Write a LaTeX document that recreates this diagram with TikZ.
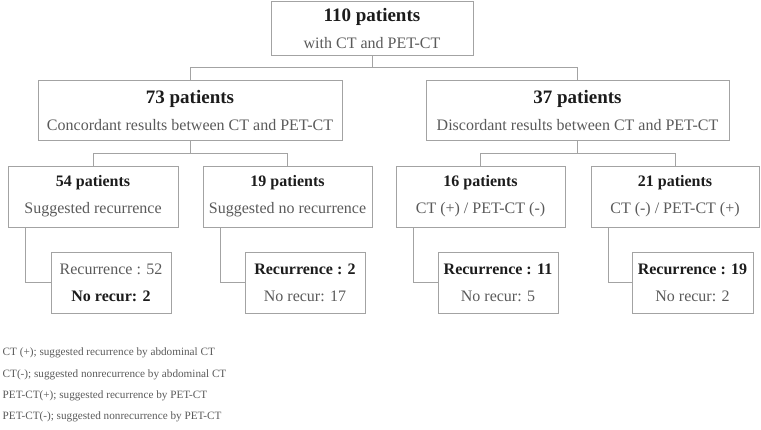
\documentclass[tikz,border=0pt]{standalone}
\usepackage{fontspec}
\setmainfont{Liberation Serif}
\usetikzlibrary{positioning}
\definecolor{boxline}{HTML}{A3A3A3}
\definecolor{txtgray}{HTML}{5A5A5A}
\definecolor{txtdark}{HTML}{1C1C1C}
\newcommand{\bighead}[1]{{\fontsize{19}{27}\selectfont\bfseries\color{txtdark}#1}}
\newcommand{\smhead}[1]{{\bfseries\color{txtdark}#1}}

\begin{document}
\begin{tikzpicture}[x=1pt,y=1pt,
  box/.style={draw=boxline, line width=0.9pt, rectangle, align=center, inner sep=0pt,
    text=txtgray, font=\fontsize{16}{27}\selectfont},
  kid/.style={box, minimum width=169pt, minimum height=61pt},
  res/.style={box, minimum width=120pt, minimum height=61pt},
  link/.style={draw=boxline, line width=0.9pt},
  note/.style={anchor=west, inner sep=0pt, text=txtgray, font=\fontsize{11.2}{13}\selectfont}]
\useasboundingbox (0,0) rectangle (761,-429);

% top of the tree
\node[box, minimum width=202pt, minimum height=54pt] (all) at (372,-28) {\bighead{110 patients}\\with CT and PET-CT};
\node[box, minimum width=304pt, minimum height=60pt] (conc) at (190,-110) {\bighead{73 patients}\\Concordant results between CT and PET-CT};
\node[box, minimum width=303pt, minimum height=60pt] (disc) at (577.5,-110) {\bighead{37 patients}\\Discordant results between CT and PET-CT};

% second level
\node[kid, minimum width=170pt] (sr) at (93,-196.5) {\smhead{54 patients}\\Suggested recurrence};
\node[kid] (snr) at (287.5,-196.5) {\smhead{19 patients}\\Suggested no recurrence};
\node[kid] (ctp) at (480.5,-196.5) {\smhead{16 patients}\\CT (+) / PET-CT (-)};
\node[kid, minimum width=168pt] (petp) at (675,-196.5) {\smhead{21 patients}\\CT (-) / PET-CT (+)};

% outcomes
\node[res] (srres) at (111,-282.5) {Recurrence : 52\\\smhead{No recur: 2}};
\node[res] (snrres) at (305,-282.5) {\smhead{Recurrence : 2}\\No recur: 17};
\node[res] (ctpres) at (498,-282.5) {\smhead{Recurrence : 11}\\No recur: 5};
\node[res, minimum width=121pt] (petpres) at (692.5,-282.5) {\smhead{Recurrence : 19}\\No recur: 2};

\draw[link] (all.south) -- ++(0,-12) -| (conc.north);
\draw[link] (all.south) -- ++(0,-12) -| (disc.north);
\foreach \p/\a/\b in {conc/sr/snr, disc/ctp/petp} {
 \draw[link] (\p.south) -- ++(0,-13) -| (\a.north);
 \draw[link] (\p.south) -- ++(0,-13) -| (\b.north);
}
\foreach \k in {sr,snr,ctp,petp} {
 \draw[link] ([xshift=17.5pt]\k.south west) |- (\k res.west);
}

\foreach \t [count=\i] in {{CT (+); suggested recurrence by abdominal CT},
  {CT(-); suggested nonrecurrence by abdominal CT},
  {PET-CT(+); suggested recurrence by PET-CT},
  {PET-CT(-); suggested nonrecurrence by PET-CT}} {
 \node[note] (note\i) at (2.5,-332-21.3*\i) {\t};
}
\end{tikzpicture}
\end{document}
